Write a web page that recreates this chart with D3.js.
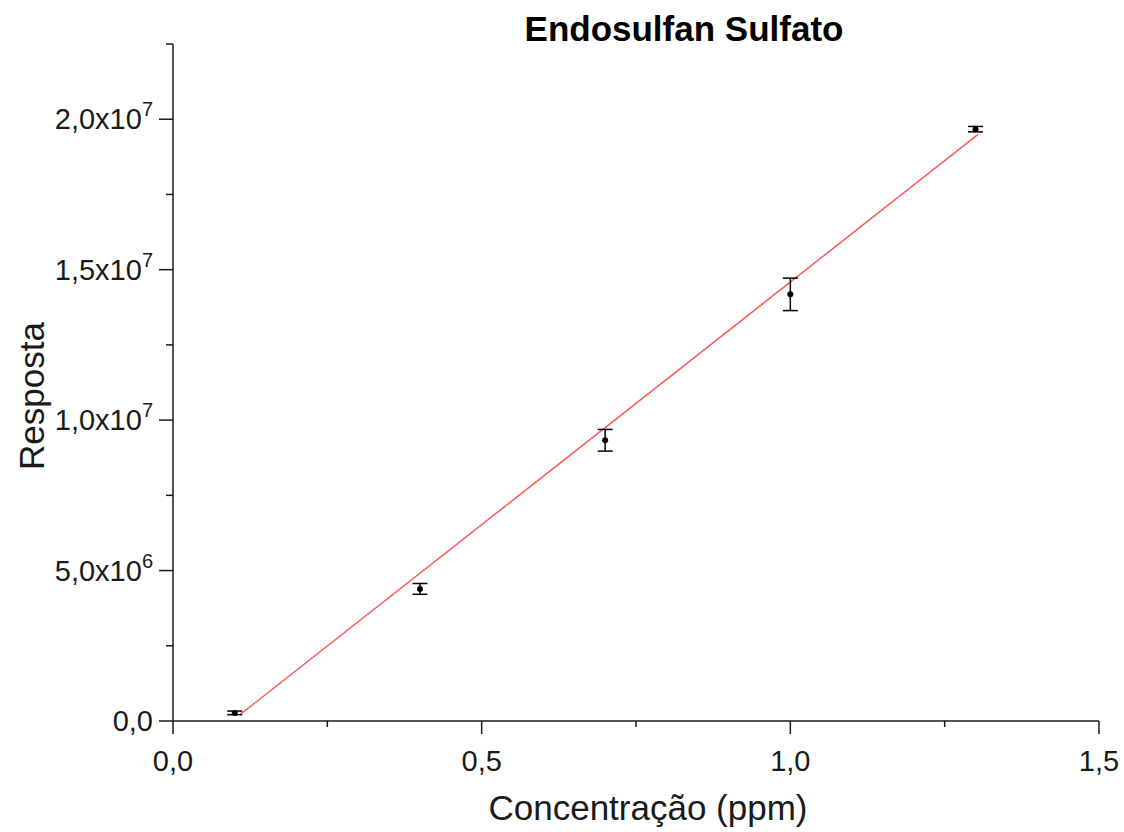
<!DOCTYPE html>
<html>
<head>
<meta charset="utf-8">
<script src="https://cdn.jsdelivr.net/npm/d3@7"></script>
<style>
  html, body { margin: 0; padding: 0; background: #fff; }
  svg { display: block; font-family: "Liberation Sans", Arial, sans-serif; }
</style>
</head>
<body>
<svg id="chart" width="1124" height="832"></svg>
<script>
// Calibration data: concentration (ppm), mean response and standard deviation
const concentration = [0.1, 0.4, 0.7, 1.0, 1.3];
const response      = [0.27e6, 4.39e6, 9.33e6, 14.18e6, 19.67e6];
const responseErr   = [0.06e6, 0.18e6, 0.36e6, 0.54e6, 0.09e6];

// Linear fit of the calibration curve
const fitSlope = 1.613e7;
const fitIntercept = -1.54e6;
const fitRange = [0.108, 1.304];

// Axis ticks
const xTicks = [0, 0.5, 1.0, 1.5];
const xMinorTicks = [0.25, 0.75, 1.25];
const yTicks = [0, 5e6, 1e7, 1.5e7, 2e7];
const yMinorTicks = [2.5e6, 7.5e6, 1.25e7, 1.75e7, 2.25e7];

const titleText = "Endosulfan Sulfato";
const xLabel = "Concentração (ppm)";
const yLabel = "Resposta";

const svg = d3.select("#chart");
const plotLeft = 173, plotRight = 1099, plotTop = 44, plotBottom = 721;

const x = d3.scaleLinear().domain([0, 1.5]).range([plotLeft, plotRight]);
const y = d3.scaleLinear().domain([0, 2.25e7]).range([plotBottom, plotTop]);

const axisColor = "#1a1a1a";
const textColor = "#1a1a1a";

// Axis lines
svg.append("line").attr("x1", plotLeft).attr("x2", plotLeft).attr("y1", plotTop).attr("y2", plotBottom)
  .attr("stroke", axisColor).attr("stroke-width", 1.5);
svg.append("line").attr("x1", plotLeft).attr("x2", plotRight).attr("y1", plotBottom).attr("y2", plotBottom)
  .attr("stroke", axisColor).attr("stroke-width", 1.5);

// X ticks (outward)
svg.selectAll(".xmaj").data(xTicks).enter().append("line")
  .attr("x1", d => x(d)).attr("x2", d => x(d)).attr("y1", plotBottom).attr("y2", plotBottom + 13)
  .attr("stroke", axisColor).attr("stroke-width", 1.5);
svg.selectAll(".xmin").data(xMinorTicks).enter().append("line")
  .attr("x1", d => x(d)).attr("x2", d => x(d)).attr("y1", plotBottom).attr("y2", plotBottom + 6)
  .attr("stroke", axisColor).attr("stroke-width", 1.5);
svg.selectAll(".xlab").data(xTicks).enter().append("text")
  .attr("x", d => x(d)).attr("y", plotBottom + 50)
  .attr("text-anchor", "middle").attr("font-size", 29).attr("fill", textColor)
  .text(d => d.toFixed(1).replace(".", ","));

// Y ticks (outward)
svg.selectAll(".ymaj").data(yTicks).enter().append("line")
  .attr("x1", plotLeft - 14).attr("x2", plotLeft).attr("y1", d => y(d)).attr("y2", d => y(d))
  .attr("stroke", axisColor).attr("stroke-width", 1.5);
svg.selectAll(".ymin").data(yMinorTicks).enter().append("line")
  .attr("x1", plotLeft - 7).attr("x2", plotLeft).attr("y1", d => y(d)).attr("y2", d => y(d))
  .attr("stroke", axisColor).attr("stroke-width", 1.5);

const yLab = svg.selectAll(".ylab").data(yTicks).enter().append("text")
  .attr("x", plotLeft - 20).attr("y", d => y(d) + 10)
  .attr("text-anchor", "end").attr("font-size", 29).attr("fill", textColor);
yLab.each(function (d) {
  const t = d3.select(this);
  if (d === 0) { t.text("0,0"); return; }
  const e = Math.floor(Math.log10(d));
  const m = (d / Math.pow(10, e)).toFixed(1).replace(".", ",");
  t.append("tspan").text(m + "x10");
  t.append("tspan").attr("dy", -13).attr("font-size", 20).text(e);
});

// Linear fit line
svg.append("line")
  .attr("x1", x(fitRange[0])).attr("y1", y(fitSlope * fitRange[0] + fitIntercept))
  .attr("x2", x(fitRange[1])).attr("y2", y(fitSlope * fitRange[1] + fitIntercept))
  .attr("stroke", "#ff5a5a").attr("stroke-width", 1.5);

// Error bars
const pts = concentration.map((c, i) => ({ c, r: response[i], e: responseErr[i] }));
const eb = svg.selectAll(".eb").data(pts).enter().append("g");
eb.append("line")
  .attr("x1", d => x(d.c)).attr("x2", d => x(d.c))
  .attr("y1", d => y(d.r - d.e)).attr("y2", d => y(d.r + d.e))
  .attr("stroke", "#000").attr("stroke-width", 1.5);
[-1, 1].forEach(s => {
  eb.append("line")
    .attr("x1", d => x(d.c) - 7.5).attr("x2", d => x(d.c) + 7.5)
    .attr("y1", d => y(d.r + s * d.e)).attr("y2", d => y(d.r + s * d.e))
    .attr("stroke", "#000").attr("stroke-width", 1.5);
});
eb.append("circle")
  .attr("cx", d => x(d.c)).attr("cy", d => y(d.r)).attr("r", 3)
  .attr("fill", "#000");

// Title and axis labels
svg.append("text").attr("x", 684).attr("y", 41)
  .attr("text-anchor", "middle").attr("font-size", 35).attr("font-weight", "bold")
  .attr("fill", "#000").text(titleText);
svg.append("text").attr("x", 648).attr("y", 820)
  .attr("text-anchor", "middle").attr("font-size", 35).attr("fill", textColor).text(xLabel);
svg.append("text").attr("transform", "translate(44,396) rotate(-90)")
  .attr("text-anchor", "middle").attr("font-size", 35).attr("fill", textColor).text(yLabel);
</script>
</body>
</html>
